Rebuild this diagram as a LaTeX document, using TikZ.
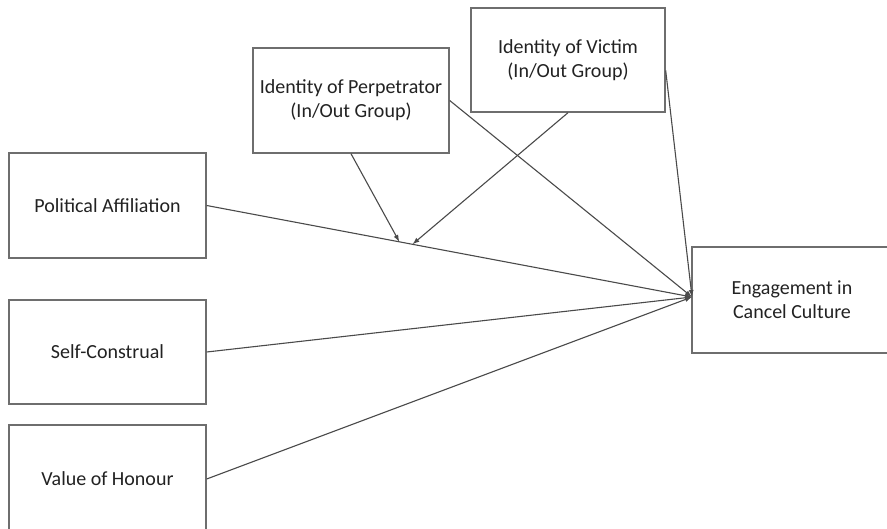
\documentclass[tikz,border=0pt]{standalone}
\usepackage{fontspec}
\setmainfont{Carlito}
\usetikzlibrary{arrows.meta,calc}
\definecolor{boxline}{HTML}{6E6E6E}
\definecolor{conn}{HTML}{4A4A4A}
\definecolor{txt}{HTML}{222222}
\begin{document}
\begin{tikzpicture}[x=1pt,y=-1pt,
  varbox/.style={draw=boxline,line width=1.4pt,fill=white,rectangle,inner sep=0pt,
    align=center,text=txt,font=\fontsize{20}{24}\selectfont},
  link/.style={draw=conn,line width=1.1pt,-{Latex[length=7pt,width=5pt]}}]
\useasboundingbox (0,0) rectangle (887,528);
\node[varbox,minimum width=197pt,minimum height=105pt] (pol) at (107.5,205.5) {Political Affiliation};
\node[varbox,minimum width=197pt,minimum height=104pt] (self) at (107.5,352) {Self-Construal};
\node[varbox,minimum width=197pt,minimum height=108pt] (val) at (107.5,479) {Value of Honour};
\node[varbox,minimum width=196pt,minimum height=105pt] (perp) at (351,100.5) {Identity of Perpetrator\\(In/Out Group)};
\node[varbox,minimum width=194pt,minimum height=104pt] (vic) at (568,60) {Identity of Victim\\(In/Out Group)};
\node[varbox,minimum width=200pt,minimum height=106pt] (eng) at (792,300) {Engagement in\\Cancel Culture};
\coordinate (tgt) at (692,297);
\coordinate (m1) at ($(pol.east)!0.397!(tgt)$);
\coordinate (m2) at ($(pol.east)!0.424!(tgt)$);
\draw[link] (pol.east) -- (tgt);
\draw[link] (self.east) -- (tgt);
\draw[link] (val.east) -- (tgt);
\draw[link] (perp.east) -- (tgt);
\draw[link] ($(vic.north east)!0.6!(vic.south east)$) -- (tgt);
\draw[link] (perp.south) -- (m1);
\draw[link] (vic.south) -- (m2);
\end{tikzpicture}
\end{document}
